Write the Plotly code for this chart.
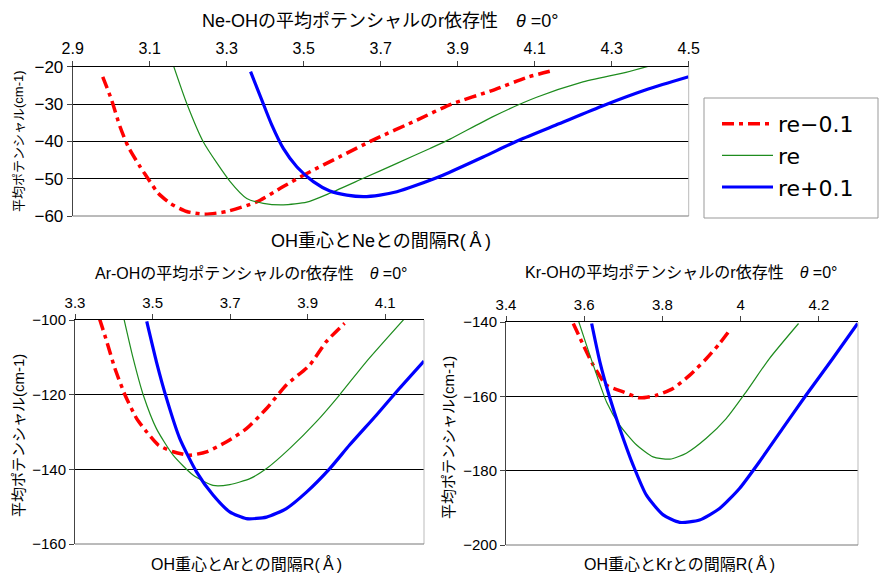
import plotly.graph_objects as go

# ---------------- data ----------------
# Ne-OH
ne_r_m = [2.978, 3.001, 3.023, 3.044, 3.075, 3.101, 3.122, 3.153, 3.196, 3.244, 3.300, 3.378, 3.447, 3.508, 3.594, 3.681, 3.794, 3.884, 3.989, 4.082, 4.151]
ne_v_m = [-22.7, -28.9, -36.1, -41.4, -46.8, -50.8, -53.9, -56.6, -58.8, -59.5, -58.8, -56.2, -52.1, -48.6, -44.1, -39.6, -34.3, -30.0, -26.4, -22.8, -20.9]
ne_r_e = [3.161, 3.196, 3.239, 3.309, 3.352, 3.395, 3.447, 3.508, 3.568, 3.655, 3.742, 3.828, 3.880, 3.989, 4.105, 4.221, 4.337, 4.401]
ne_v_e = [-19.5, -29.8, -40.1, -50.8, -55.3, -56.6, -57.0, -56.3, -53.9, -49.9, -45.9, -41.9, -39.4, -33.5, -28.2, -24.2, -21.5, -19.7]
ne_r_p = [3.362, 3.391, 3.417, 3.447, 3.482, 3.525, 3.568, 3.612, 3.655, 3.698, 3.742, 3.794, 3.863, 3.966, 4.059, 4.163, 4.279, 4.395, 4.500]
ne_v_p = [-21.3, -28.9, -35.6, -41.9, -46.8, -50.8, -53.3, -54.4, -54.8, -54.4, -53.5, -51.7, -49.0, -44.2, -39.7, -35.3, -30.4, -26.0, -22.7]

# Ar-OH
ar_r_m = [3.363, 3.382, 3.403, 3.429, 3.459, 3.485, 3.515, 3.553, 3.596, 3.639, 3.691, 3.742, 3.794, 3.845, 3.905, 3.948, 3.995]
ar_v_m = [-99.6, -105.8, -113.0, -120.1, -126.4, -130.0, -133.5, -135.3, -136.2, -135.3, -132.6, -129.1, -123.7, -117.4, -112.1, -105.8, -100.9]
ar_r_e = [3.426, 3.450, 3.476, 3.510, 3.553, 3.605, 3.656, 3.699, 3.751, 3.794, 3.854, 3.922, 3.982, 4.051, 4.150]
ar_v_e = [-99.6, -110.3, -120.1, -129.1, -136.2, -141.6, -144.3, -144.1, -142.5, -139.8, -134.4, -127.3, -120.1, -111.2, -99.6]
ar_r_p = [3.485, 3.510, 3.536, 3.570, 3.613, 3.656, 3.699, 3.742, 3.794, 3.845, 3.897, 3.957, 4.008, 4.077, 4.137, 4.200]
ar_v_p = [-100.4, -111.2, -121.0, -131.7, -140.6, -146.9, -151.4, -153.2, -152.8, -150.5, -146.1, -139.8, -133.5, -125.5, -118.3, -111.0]

# Kr-OH
kr_r_m = [3.572, 3.598, 3.623, 3.657, 3.700, 3.742, 3.785, 3.827, 3.870, 3.912, 3.946, 3.972]
kr_v_m = [-140.4, -146.3, -151.6, -157.0, -158.8, -160.4, -159.7, -157.9, -154.3, -149.9, -145.8, -142.2]
kr_r_e = [3.585, 3.606, 3.632, 3.657, 3.691, 3.734, 3.776, 3.819, 3.861, 3.912, 3.963, 4.014, 4.073, 4.148]
kr_v_e = [-139.6, -146.3, -154.3, -161.5, -167.8, -173.1, -176.3, -176.9, -175.3, -171.3, -166.0, -158.8, -149.9, -140.4]
kr_r_p = [3.619, 3.640, 3.666, 3.691, 3.725, 3.759, 3.802, 3.844, 3.895, 3.946, 3.997, 4.048, 4.107, 4.167, 4.235, 4.299]
kr_v_p = [-140.4, -150.7, -160.6, -168.7, -178.5, -186.6, -191.9, -193.9, -193.3, -190.2, -184.8, -177.6, -168.7, -159.7, -149.9, -140.4]

series_names = ["re\u22120.1", "re", "re+0.1"]

ne_xticks = [2.9, 3.1, 3.3, 3.5, 3.7, 3.9, 4.1, 4.3, 4.5]
ar_xticks = [3.3, 3.5, 3.7, 3.9, 4.1]
kr_xticks = [3.4, 3.6, 3.8, 4.0, 4.2]
kr_xticktext = ["3.4", "3.6", "3.8", "4", "4.2"]

# ---------------- styles ----------------
RED = "#FF0000"
GREEN = "#1E8C1E"
BLUE = "#0000FF"
styles = [
    dict(color=RED, width=3.5, dash="12px,5px,4px,5px"),
    dict(color=GREEN, width=1.2),
    dict(color=BLUE, width=3.2),
]
FONT = "Liberation Sans, Noto Sans CJK JP, sans-serif"

fig = go.Figure()

panels = [
    ("x", "y", [(ne_r_m, ne_v_m), (ne_r_e, ne_v_e), (ne_r_p, ne_v_p)], True),
    ("x2", "y2", [(ar_r_m, ar_v_m), (ar_r_e, ar_v_e), (ar_r_p, ar_v_p)], False),
    ("x3", "y3", [(kr_r_m, kr_v_m), (kr_r_e, kr_v_e), (kr_r_p, kr_v_p)], False),
]
for xa, ya, data, show in panels:
    for i, (r, v) in enumerate(data):
        fig.add_trace(go.Scatter(
            x=r, y=v, mode="lines", line=dict(shape="spline", smoothing=0.6, **styles[i]),
            name=series_names[i], showlegend=show, legendgroup=str(i),
            xaxis=xa, yaxis=ya, hoverinfo="skip"))

def xax(domain, rng, tickvals, ticktext, anchor, size):
    return dict(domain=domain, range=rng, side="top", tickvals=tickvals, ticktext=ticktext,
                ticks="outside", ticklen=5, tickcolor="#444", showline=True, linecolor="#000",
                linewidth=1, showgrid=False, zeroline=False, anchor=anchor, automargin=False,
                tickfont=dict(size=size, color="#000", family=FONT), fixedrange=True)

def yax(domain, rng, dtick, anchor, size):
    return dict(domain=domain, range=rng, dtick=dtick, ticks="outside", ticklen=5,
                tickcolor="#444", showline=True, linecolor="#444", linewidth=1,
                showgrid=True, gridcolor="#000", gridwidth=1, zeroline=False, anchor=anchor,
                automargin=False,
                tickfont=dict(size=size, color="#000", family=FONT), fixedrange=True)

W, H = 880, 573
def px(x0, x1):
    return [x0 / W, x1 / W]
def py(top, bottom):
    return [1 - bottom / H, 1 - top / H]

fig.update_layout(
    template="none",
    width=W, height=H, margin=dict(l=0, r=0, t=0, b=0, pad=0, autoexpand=False),
    paper_bgcolor="white", plot_bgcolor="white",
    font=dict(family=FONT, color="#000"),
    xaxis=xax(px(72.7, 688.7), [2.9, 4.5], ne_xticks, [f"{t:.1f}" for t in ne_xticks], "y", 16),
    yaxis=yax(py(66.7, 216), [-60, -20], 10, "x", 17),
    xaxis2=xax(px(75, 424), [3.3, 4.2], ar_xticks, [f"{t:.1f}" for t in ar_xticks], "y2", 15),
    yaxis2=yax(py(320, 544), [-160, -100], 20, "x2", 15),
    xaxis3=xax(px(506, 858), [3.4, 4.3], kr_xticks, kr_xticktext, "y3", 15),
    yaxis3=yax(py(322, 545), [-200, -140], 20, "x3", 15),
    legend=dict(x=717 / W, y=1 - 103 / H, xanchor="left", yanchor="top",
                borderwidth=0, bgcolor="rgba(0,0,0,0)",
                font=dict(size=22, family="DejaVu Sans, Liberation Sans, sans-serif"),
                itemwidth=51, tracegroupgap=0),
    showlegend=True,
)

# legend frame
fig.add_shape(type="rect", xref="paper", yref="paper", x0=704 / W, x1=878 / W,
              y0=1 - 218 / H, y1=1 - 98 / H, line=dict(color="#999999", width=1),
              fillcolor="rgba(0,0,0,0)", layer="below")

# bottom and right borders of each plot
for xa, ya in [("x", "y"), ("x2", "y2"), ("x3", "y3")]:
    fig.add_shape(type="line", xref=f"{xa} domain", yref=f"{ya} domain", x0=1, x1=1, y0=0, y1=1,
                  line=dict(color="#BBBBBB", width=1))
    fig.add_shape(type="line", xref=f"{xa} domain", yref=f"{ya} domain", x0=0, x1=1, y0=0, y1=0,
                  line=dict(color="#777777", width=1))

def ann(text, x, y, size, angle=0):
    fig.add_annotation(text=text, x=x / W, y=1 - y / H, xref="paper", yref="paper",
                       showarrow=False, textangle=angle, xanchor="center", yanchor="middle",
                       font=dict(size=size, family=FONT, color="#000"))

ann("Ne-OHの平均ポテンシャルのr依存性　<i>θ</i> =0°", 380, 21, 18)
ann("OH重心とNeとの間隔R(\u2009Å\u2009)", 381, 241, 18)
ann("平均ポテンシャル(cm-1)", 18, 141, 13, -90)
ann("Ar-OHの平均ポテンシャルのr依存性　<i>θ</i> =0°", 251, 273, 16)
ann("OH重心とArとの間隔R(\u2009Å\u2009)", 246, 564, 16)
ann("平均ポテンシャル(cm-1)", 18, 436, 15, -90)
ann("Kr-OHの平均ポテンシャルのr依存性　<i>θ</i> =0°", 681, 272, 16)
ann("OH重心とKrとの間隔R(\u2009Å\u2009)", 679, 564, 16)
ann("平均ポテンシャル(cm-1)", 448, 437, 15, -90)

fig.write_html("out.html", config={"displayModeBar": False},
               post_script="document.body.style.margin='0';document.body.style.padding='0';")
